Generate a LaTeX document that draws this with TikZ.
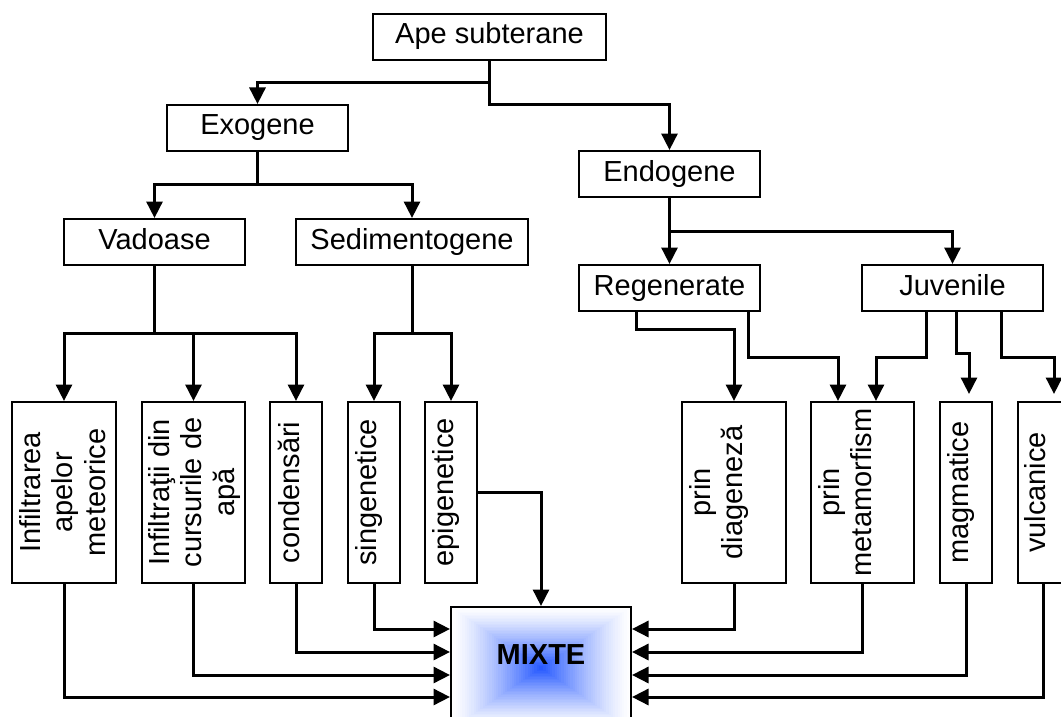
\documentclass[tikz,border=0pt]{standalone}
\usepackage{fontspec}
\setmainfont{Liberation Sans}
\usetikzlibrary{arrows.meta,calc}
\definecolor{mixblue}{RGB}{40,90,255}
\begin{document}
\begin{tikzpicture}[x=1pt,y=-1pt,
  font=\fontsize{29}{32.5}\selectfont,
  box/.style 2 args={draw, line width=2pt, minimum width=#1, minimum height=#2,
    inner sep=0pt, text height=20pt, text depth=6pt},
  vtxt/.style={rotate=90, anchor=north, align=center, inner sep=0pt},
  arr/.style={line width=3pt, -{Triangle[length=16.5pt,width=16pt]}}]
\useasboundingbox (0,0) rectangle (1061,717);
\clip (0,0) rectangle (1061,717);

% top levels
\node[box={233pt}{46pt}] (ape) at (489.5,37) {Ape subterane};
\node[box={181pt}{46pt}] (exo) at (257.5,128) {Exogene};
\node[box={181pt}{46pt}] (endo) at (669.5,174) {Endogene};
\node[box={181pt}{46pt}] (vad) at (154.5,242) {Vadoase};
\node[box={232pt}{46pt}] (sed) at (412,242) {Sedimentogene};
\node[box={181pt}{46pt}] (reg) at (669.5,288) {Regenerate};
\node[box={181pt}{46pt}] (juv) at (952.5,288) {Juvenile};

% bottom row boxes
\node[box={104pt}{181pt}] (b1) at (64,492.5) {};
\node[box={103pt}{181pt}] (b2) at (193.5,492.5) {};
\node[box={52pt}{181pt}] (b3) at (296,492.5) {};
\node[box={52pt}{181pt}] (b4) at (374,492.5) {};
\node[box={52pt}{181pt}] (b5) at (451,492.5) {};
\node[box={104pt}{181pt}] (b6) at (734,492.5) {};
\node[box={103pt}{181pt}] (b7) at (862.5,492.5) {};
\node[box={52pt}{181pt}] (b8) at (966,492.5) {};
\node[box={52pt}{181pt}] (b9) at (1043.5,492.5) {};

\node[vtxt] (t1) at ([xshift=8pt]b1.west) {Infiltrarea\\apelor\\meteorice};
\node[vtxt] (t2) at ([xshift=7pt]b2.west) {Infiltraţii din\\cursurile de\\apă};
\node[vtxt] (t3) at ([xshift=9pt]b3.west) {condensări};
\node[vtxt] (t4) at ([xshift=8pt]b4.west) {singenetice};
\node[vtxt] (t5) at ([xshift=8pt]b5.west) {epigenetice};
\node[vtxt] (t6) at ([xshift=8pt]b6.west) {prin\\diageneză};
\node[vtxt] (t7) at ([xshift=8pt]b7.west) {prin\\metamorfism};
\node[vtxt] (t8) at ([xshift=8pt]b8.west) {magmatice};
\node[vtxt] (t9) at ([xshift=8pt]b9.west) {vulcanice};

% MIXTE box with rectangular gradient
\foreach \i in {0,...,39}{
  \pgfmathsetmacro\f{1-\i/40}
  \pgfmathsetmacro\p{100*(\i/39)^1.3}
  \fill[mixblue!\p!white] ({541-90*\f},{668-61*\f}) rectangle ({541+90*\f},{668+61*\f});
}
\node[draw, line width=2pt, minimum width=180pt, minimum height=122pt, inner sep=0pt] (mix) at (541,668) {};
\node[font=\fontsize{29}{32.5}\selectfont\bfseries, inner sep=0pt] (mixt) at (541,655) {MIXTE};

% level coordinates
\coordinate (yA1) at (0,83);
\coordinate (yA2) at (0,105);
\coordinate (yE1) at (0,184);
\coordinate (yN1) at (0,231);
\coordinate (yV1) at (0,333);
\coordinate (yR1) at (0,329);
\coordinate (yR2) at (0,357);
\coordinate (yJ2) at (0,353);
\coordinate (yM1) at (0,629);
\coordinate (yM2) at (0,652);
\coordinate (yM3) at (0,675);
\coordinate (yM4) at (0,697);

\coordinate (r1) at ([xshift=-33.5pt]reg.south);
\coordinate (r2) at ([xshift=78.5pt]reg.south);
\coordinate (j1) at ([xshift=-26.5pt]juv.south);
\coordinate (j2) at ([xshift=3.5pt]juv.south);
\coordinate (j3) at ([xshift=48.5pt]juv.south);
\coordinate (e7a) at ([xshift=-24.5pt]b7.north);
\coordinate (e7b) at ([xshift=13.5pt]b7.north);
\coordinate (e8) at ([xshift=3pt]b8.north);
\coordinate (e9) at ([xshift=10.5pt]b9.north);

% connectors
\draw[arr] (ape.south) -- (ape.south |- yA1) -| (exo.north);
\draw[arr] (ape.south) -- (ape.south |- yA2) -| (endo.north);
\draw[arr] (exo.south) -- (exo.south |- yE1) -| (vad.north);
\draw[arr] (exo.south) -- (exo.south |- yE1) -| (sed.north);
\draw[arr] (endo.south) -- (reg.north);
\draw[arr] (endo.south) -- (endo.south |- yN1) -| (juv.north);
\draw[arr] (vad.south) -- (vad.south |- yV1) -| (b1.north);
\draw[arr] (vad.south) -- (vad.south |- yV1) -| (b2.north);
\draw[arr] (vad.south) -- (vad.south |- yV1) -| (b3.north);
\draw[arr] (sed.south) -- (sed.south |- yV1) -| (b4.north);
\draw[arr] (sed.south) -- (sed.south |- yV1) -| (b5.north);
\draw[arr] (r1) -- (r1 |- yR1) -| (b6.north);
\draw[arr] (r2) -- (r2 |- yR2) -| (e7a);
\draw[arr] (j1) -- (j1 |- yR2) -| (e7b);
\draw[arr, shorten >=7pt] (j2) -- (j2 |- yJ2) -| (e8);
\draw[arr, shorten >=7pt] (j3) -- (j3 |- yR2) -| (e9);

\draw[arr] (b1.south) |- (mix.west |- yM4);
\draw[arr] (b2.south) |- (mix.west |- yM3);
\draw[arr] (b3.south) |- (mix.west |- yM2);
\draw[arr] (b4.south) |- (mix.west |- yM1);
\draw[arr] (b5.east) -| (mix.north);
\draw[arr] (b6.south) |- (mix.east |- yM1);
\draw[arr] (b7.south) |- (mix.east |- yM2);
\draw[arr] (b8.south) |- (mix.east |- yM3);
\draw[arr] (b9.south) |- (mix.east |- yM4);
\end{tikzpicture}
\end{document}
